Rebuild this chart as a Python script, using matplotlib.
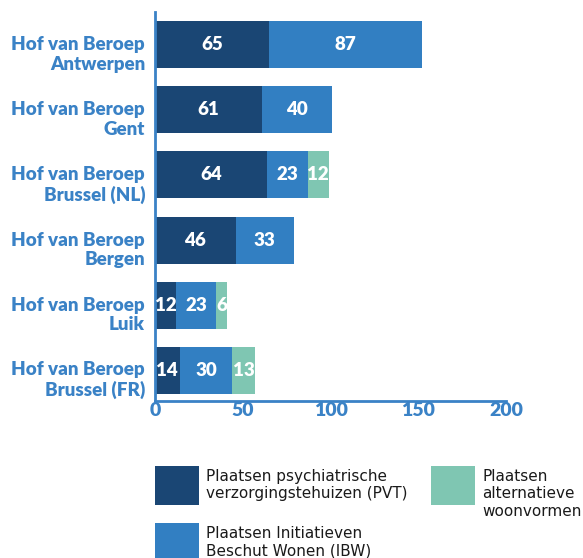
import numpy as np
import matplotlib
matplotlib.use("Agg")
import matplotlib.pyplot as plt
import matplotlib.transforms as mtransforms
from matplotlib.patches import Rectangle

courts = [
    "Hof van Beroep\nAntwerpen",
    "Hof van Beroep\nGent",
    "Hof van Beroep\nBrussel (NL)",
    "Hof van Beroep\nBergen",
    "Hof van Beroep\nLuik",
    "Hof van Beroep\nBrussel (FR)",
]
pvt = [65, 61, 64, 46, 12, 14]
ibw = [87, 40, 23, 33, 23, 30]
alt = [0, 0, 12, 0, 6, 13]
series_names = [
    "Plaatsen psychiatrische\nverzorgingstehuizen (PVT)",
    "Plaatsen Initiatieven\nBeschut Wonen (IBW)",
    "Plaatsen\nalternatieve\nwoonvormen",
]
xticks = [0, 50, 100, 150, 200]

DARK = "#1a4674"
MID = "#327fc2"
MINT = "#7fc6b2"
LABEL = "#3a82c6"

plt.rcParams["font.family"] = ["Lato", "DejaVu Sans"]

fig = plt.figure(figsize=(5.83, 5.58), dpi=100)
W, H = 583, 558
ax = fig.add_axes([155 / W, 1 - 401 / H, 351 / W, 389 / H])

y = np.arange(len(courts))
left = np.zeros(len(courts))
for vals, col in zip([pvt, ibw, alt], [DARK, MID, MINT]):
    vals = np.array(vals, dtype=float)
    ax.barh(y, vals, left=left, height=0.72, color=col, linewidth=0)
    for yi, l, v in zip(y, left, vals):
        if v > 0:
            ax.text(l + v / 2, yi, f"{int(v)}", ha="center", va="center",
                    color="white", fontsize=13.5, fontweight="heavy")
    left += vals

ax.set_xlim(0, 200)
ax.set_ylim(5.47, -0.5)
ax.set_xticks(xticks)
ax.set_yticks(y)
ax.set_yticklabels([])

# category labels, a little below the bar centre as in the original
trans = mtransforms.blended_transform_factory(ax.transAxes, ax.transData)
offset = mtransforms.ScaledTranslation(0, -10 / 100, fig.dpi_scale_trans)
for yi, name in zip(y, courts):
    ax.text(-10 / 351, yi, name, transform=trans + offset, ha="right",
            va="center", fontsize=13.5, fontweight="heavy", color=LABEL,
            linespacing=1.18)

ax.tick_params(length=0)
ax.tick_params(axis="x", pad=1, labelsize=14, labelcolor=LABEL)
for t in ax.get_xticklabels():
    t.set_fontweight("heavy")
for s in ["top", "right"]:
    ax.spines[s].set_visible(False)
for s in ["left", "bottom"]:
    ax.spines[s].set_color(LABEL)
    ax.spines[s].set_linewidth(2)

# legend
legend_items = [
    (155, 466, DARK, series_names[0]),
    (155, 523, MID, series_names[1]),
    (431, 466, MINT, series_names[2]),
]
for x0, y0, col, name in legend_items:
    fig.add_artist(Rectangle((x0 / W, 1 - (y0 + 39) / H), 44 / W, 39 / H,
                             transform=fig.transFigure, color=col, lw=0))
    fig.text((x0 + 51) / W, 1 - (y0 + 3) / H, name, ha="left", va="top",
             fontsize=11, color="#1a1a1a", linespacing=1.2,
             family="DejaVu Sans")

fig.savefig("out.png", dpi=100)
